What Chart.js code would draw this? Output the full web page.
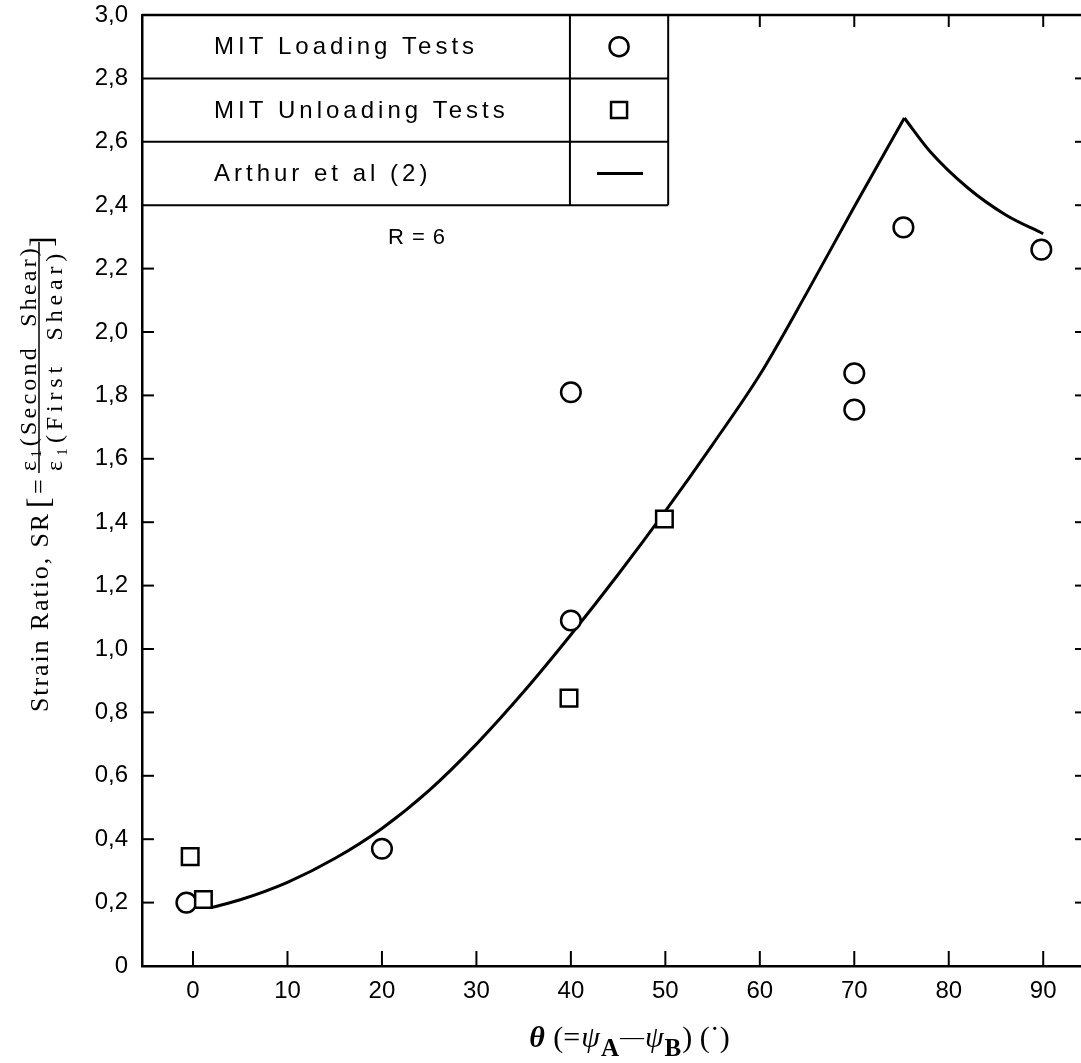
<!DOCTYPE html>
<html><head><meta charset="utf-8">
<script src="https://cdn.jsdelivr.net/npm/chart.js@4.4.1/dist/chart.umd.min.js"></script>
<style>html,body{margin:0;padding:0;background:#fff;overflow:hidden}canvas{display:block}</style>
</head><body>
<canvas id="c" width="1081" height="1063"></canvas>
<script>
// ---------- data ----------
const xTickValues = [0, 10, 20, 30, 40, 50, 60, 70, 80, 90];
const xTickLabels = ['0', '10', '20', '30', '40', '50', '60', '70', '80', '90'];
const yTickValues = [0, 0.2, 0.4, 0.6, 0.8, 1.0, 1.2, 1.4, 1.6, 1.8, 2.0, 2.2, 2.4, 2.6, 2.8, 3.0];
const yTickLabels = ['0', '0,2', '0,4', '0,6', '0,8', '1,0', '1,2', '1,4', '1,6', '1,8', '2,0', '2,2', '2,4', '2,6', '2,8', '3,0'];

const loadingTheta = [-0.7, 20, 40, 40, 70, 70, 75.2, 89.8];
const loadingSR    = [0.20, 0.37, 1.81, 1.09, 1.87, 1.755, 2.33, 2.26];

const unloadingTheta = [-0.3, 1.1, 39.8, 49.9];
const unloadingSR    = [0.345, 0.21, 0.845, 1.41];

const arthurTheta = [2, 5, 10, 15, 20, 25, 30, 35, 40, 45, 50, 55, 60, 65, 70, 75.3, 78, 82, 86, 90];
const arthurSR    = [0.185, 0.209, 0.264, 0.339, 0.434, 0.554, 0.70, 0.865, 1.045, 1.235, 1.435, 1.645, 1.865, 2.125, 2.395, 2.675, 2.57, 2.455, 2.37, 2.31];

const legendLabels = ['MIT Loading Tests', 'MIT Unloading Tests', 'Arthur et al (2)'];
const annotationText = 'R = 6';

// ---------- build ----------
const toXY = (xs, ys) => xs.map((v, i) => ({x: v, y: ys[i]}));
const peak = arthurSR.indexOf(Math.max(...arthurSR));
const arthurAll = toXY(arthurTheta, arthurSR);
const arthurRise = arthurAll.slice(0, peak + 1);
const arthurFall = arthurAll.slice(peak);

function line(ctx, x1, y1, x2, y2) { ctx.beginPath(); ctx.moveTo(x1, y1); ctx.lineTo(x2, y2); ctx.stroke(); }
function zeroPad(s) { s.paddingLeft = 0; s.paddingRight = 0; s.paddingTop = 0; s.paddingBottom = 0; }

const decor = {
  id: 'decor',
  afterDraw(chart) {
    const {ctx, chartArea: ca} = chart;
    const x = chart.scales.x, y = chart.scales.y;
    ctx.save();
    ctx.strokeStyle = '#000'; ctx.fillStyle = '#000';
    // top frame line
    ctx.lineWidth = 2.5;
    line(ctx, ca.left, ca.top, ca.right, ca.top);
    ctx.lineWidth = 2;
    // inward ticks
    yTickValues.forEach(v => {
      const py = y.getPixelForValue(v);
      if (v > 0.1 && v < 2.3) line(ctx, ca.left, py, ca.left + 12, py);
      if (v > 0.1 && v < 2.9) line(ctx, ca.right - 6, py, ca.right, py);
    });
    xTickValues.forEach(v => {
      const px = x.getPixelForValue(v);
      line(ctx, px, ca.bottom, px, ca.bottom - 15);
      if (v >= 60) line(ctx, px, ca.top, px, ca.top + 12);
    });

    // legend table
    const tl = ca.left, tt = ca.top;
    const tr = x.getPixelForValue(50.3), td = x.getPixelForValue(39.9);
    const rows = [2.8, 2.6, 2.4].map(v => y.getPixelForValue(v));
    ctx.lineWidth = 2;
    line(ctx, tr, tt, tr, rows[2]);
    line(ctx, td, tt, td, rows[2]);
    rows.forEach(r => line(ctx, tl, r, tr, r));
    const mids = [(tt + rows[0]) / 2, (rows[0] + rows[1]) / 2, (rows[1] + rows[2]) / 2];
    ctx.font = '24px "Liberation Sans", Arial, sans-serif';
    ctx.letterSpacing = '4px';
    ctx.textBaseline = 'middle'; ctx.textAlign = 'left';
    legendLabels.forEach((t, i) => ctx.fillText(t, 214, mids[i] + 1));
    ctx.letterSpacing = '0px';
    const sx = (td + tr) / 2;
    ctx.lineWidth = 2.5;
    ctx.beginPath(); ctx.arc(sx, mids[0], 9.5, 0, Math.PI * 2); ctx.stroke();
    ctx.beginPath(); ctx.rect(sx - 8, mids[1] - 8, 16, 16); ctx.stroke();
    ctx.lineWidth = 3;
    line(ctx, sx - 22, mids[2], sx + 24, mids[2]);

    // R = 6
    ctx.font = '22px "Liberation Sans", Arial, sans-serif';
    ctx.letterSpacing = '1px';
    ctx.textAlign = 'center';
    ctx.fillText(annotationText, 417, y.getPixelForValue(2.3) + 1);
    ctx.letterSpacing = '0px';

    // x axis title
    const serif = '"Liberation Serif", "Times New Roman", serif';
    const parts = [
      {t: 'θ', f: 'italic bold 30px ' + serif, dy: 0},
      {t: ' (=', f: '30px ' + serif, dy: 0},
      {t: 'ψ', f: 'italic 30px ' + serif, dy: 0},
      {t: 'A', f: 'bold 25px ' + serif, dy: 9},
      {t: '—', f: '24px ' + serif, dy: -3},
      {t: 'ψ', f: 'italic 30px ' + serif, dy: 0},
      {t: 'B', f: 'bold 25px ' + serif, dy: 9},
      {t: ') (˙)', f: '30px ' + serif, dy: 0}
    ];
    ctx.textAlign = 'left'; ctx.textBaseline = 'alphabetic';
    let total = 0;
    parts.forEach(p => { ctx.font = p.f; p.w = ctx.measureText(p.t).width + 1; total += p.w; });
    let cx = 630 - total / 2;
    parts.forEach(p => { ctx.font = p.f; ctx.fillText(p.t, cx, 1047 + p.dy); cx += p.w; });

    // y axis title (rotated)
    function rtext(t, font, bx, by, target) {
      ctx.save();
      ctx.font = font;
      let w = ctx.measureText(t).width;
      if (target) { ctx.letterSpacing = ((target - w) / t.length) + 'px'; w = target; }
      ctx.translate(bx, by); ctx.rotate(-Math.PI / 2);
      ctx.textAlign = 'left'; ctx.textBaseline = 'alphabetic';
      ctx.fillText(t, 0, 0);
      ctx.restore();
      return w;
    }
    rtext('Strain Ratio, SR', '26px ' + serif, 48, 712, 200);
    rtext('[', '32px ' + serif, 49, 508);
    rtext('=', '26px ' + serif, 47, 494);
    ctx.lineWidth = 1.5;
    line(ctx, 39, 473, 39, 242);
    rtext('ε₁(Second  Shear)', '24px ' + serif, 36, 471, 226);
    rtext('ε₁(First  Shear)', '24px ' + serif, 62, 471, 222);
    rtext(']', '32px ' + serif, 52, 247);
    ctx.restore();
  }
};

new Chart(document.getElementById('c'), {
  type: 'scatter',
  data: {
    datasets: [
      {label: legendLabels[2], data: arthurRise, showLine: true, pointRadius: 0, borderColor: '#000', borderWidth: 3, cubicInterpolationMode: 'monotone', tension: 0.4, order: 3},
      {label: legendLabels[2], data: arthurFall, showLine: true, pointRadius: 0, borderColor: '#000', borderWidth: 3, cubicInterpolationMode: 'monotone', tension: 0.4, order: 3},
      {label: legendLabels[0], data: toXY(loadingTheta, loadingSR), pointStyle: 'circle', pointRadius: 9.8, borderWidth: 2.5, borderColor: '#000', backgroundColor: '#fff', order: 2},
      {label: legendLabels[1], data: toXY(unloadingTheta, unloadingSR), pointStyle: 'rect', pointRadius: 11.7, borderWidth: 2.5, borderColor: '#000', backgroundColor: '#fff', order: 1}
    ]
  },
  options: {
    responsive: false,
    animation: false,
    devicePixelRatio: 1,
    layout: {autoPadding: false, padding: {top: 15, right: 0, left: 0, bottom: 0}},
    plugins: {legend: {display: false}, tooltip: {enabled: false}},
    scales: {
      x: {
        type: 'linear', min: -5.4, max: 94.0,
        grid: {display: false, drawTicks: false},
        border: {display: true, color: '#000', width: 2.5},
        ticks: {
          color: '#000', padding: 11, maxRotation: 0, autoSkip: false,
          font: {family: '"Liberation Sans", Arial, sans-serif', size: 24},
          callback: (v, i) => xTickLabels[i]
        },
        afterBuildTicks: s => { s.ticks = xTickValues.map(v => ({value: v})); },
        afterFit: s => { s.height = 97; zeroPad(s); }
      },
      y: {
        type: 'linear', min: 0, max: 3.0,
        grid: {display: false, drawTicks: false},
        border: {display: true, color: '#000', width: 2.5},
        ticks: {
          color: '#000', padding: 14, autoSkip: false,
          font: {family: '"Liberation Sans", Arial, sans-serif', size: 24},
          callback: (v, i) => yTickLabels[i]
        },
        afterBuildTicks: s => { s.ticks = yTickValues.map(v => ({value: v})); },
        afterFit: s => { s.width = 142; zeroPad(s); }
      }
    }
  },
  plugins: [decor]
});
</script>
</body></html>
